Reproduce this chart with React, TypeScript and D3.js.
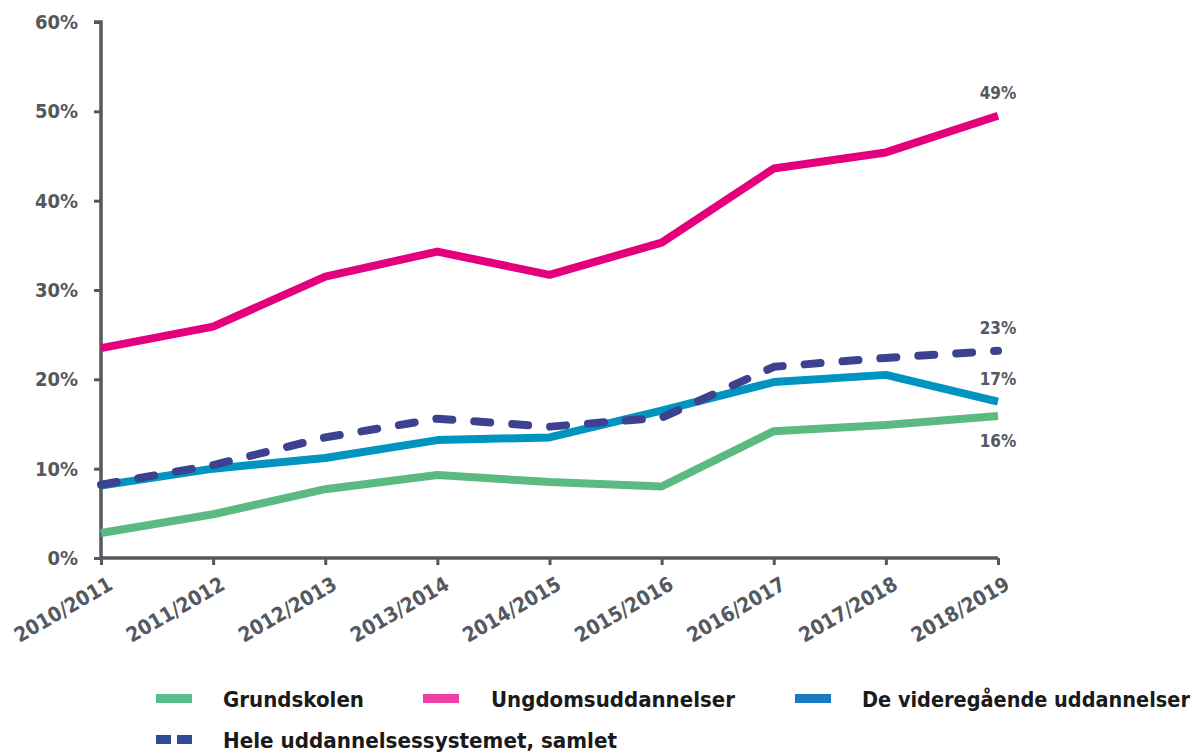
import React, { useEffect, useRef } from 'react';
import * as d3 from 'd3';

const years = [
  '2010/2011', '2011/2012', '2012/2013', '2013/2014', '2014/2015',
  '2015/2016', '2016/2017', '2017/2018', '2018/2019',
];
const grundskolen = [2.8, 4.9, 7.7, 9.3, 8.5, 8.0, 14.2, 14.9, 15.9];
const ungdom = [23.5, 25.9, 31.5, 34.3, 31.7, 35.3, 43.6, 45.4, 49.5];
const videregaaende = [8.1, 10.0, 11.2, 13.2, 13.5, 16.5, 19.7, 20.5, 17.5];
const samlet = [8.2, 10.4, 13.5, 15.6, 14.7, 15.7, 21.4, 22.4, 23.2];
const yTicks = [0, 10, 20, 30, 40, 50, 60];
const endLabels = [
  { text: '49%', value: 49.5 },
  { text: '23%', value: 23.2 },
  { text: '17%', value: 17.5 },
  { text: '16%', value: 15.9 },
];
const legendItems = [
  { label: 'Grundskolen', color: '#57bf8b', dashed: false },
  { label: 'Ungdomsuddannelser', color: '#ee3fa7', dashed: false },
  { label: 'De videregående uddannelser', color: '#1a7ac1', dashed: false },
  { label: 'Hele uddannelsessystemet, samlet', color: '#2f4b98', dashed: true },
];

const WIDTH = 1200;
const HEIGHT = 752;
const margin = { top: 22, right: 202, bottom: 194, left: 101 };
const axisColor = '#54585f';
const font = '"DejaVu Sans Condensed", "DejaVu Sans", sans-serif';

export default function App() {
  const svgRef = useRef<SVGSVGElement>(null);

  useEffect(() => {
    if (!svgRef.current) return;
    const svg = d3.select(svgRef.current);
    svg.selectAll('*').remove();

    const x = d3.scalePoint<string>()
      .domain(years)
      .range([margin.left, WIDTH - margin.right]);
    const y = d3.scaleLinear()
      .domain([0, 60])
      .range([HEIGHT - margin.bottom, margin.top]);

    // y axis
    const yAxis = svg.append('g')
      .attr('transform', `translate(${margin.left},0)`)
      .call(d3.axisLeft(y).tickValues(yTicks).tickSize(7).tickPadding(16).tickFormat(d => `${d}%`));
    yAxis.select('.domain').attr('stroke', axisColor).attr('stroke-width', 3.5)
      .attr('d', `M-7,${y(60)}H0V${y(0)}`);
    yAxis.selectAll('.tick line').attr('stroke', axisColor).attr('stroke-width', 3);
    yAxis.selectAll('.tick text')
      .attr('fill', axisColor)
      .attr('font-family', font)
      .attr('font-weight', 'bold')
      .attr('font-size', 20);

    // x axis
    const xAxis = svg.append('g')
      .attr('transform', `translate(0,${y(0)})`)
      .call(d3.axisBottom(x).tickSize(7).tickSizeOuter(0));
    xAxis.select('.domain').attr('stroke', axisColor).attr('stroke-width', 3.5)
      .attr('d', `M${margin.left},0H${WIDTH - margin.right}`);
    xAxis.selectAll('.tick line').attr('stroke', axisColor).attr('stroke-width', 3);
    xAxis.selectAll('.tick text')
      .attr('fill', axisColor)
      .attr('font-family', font)
      .attr('font-weight', 'bold')
      .attr('font-size', 20.5)
      .attr('text-anchor', 'end')
      .attr('y', 0)
      .attr('dy', '0.75em')
      .attr('transform', 'translate(5,17) rotate(-30)');

    const line = d3.line<number>()
      .x((_, i) => x(years[i]) as number)
      .y(d => y(d));

    const series = [
      { data: grundskolen, color: '#5bb982', dash: null },
      { data: ungdom, color: '#e4007d', dash: null },
      { data: videregaaende, color: '#0094c0', dash: null },
      { data: samlet, color: '#3c4290', dash: '16 22' },
    ];
    series.forEach(s => {
      const p = svg.append('path')
        .datum(s.data)
        .attr('fill', 'none')
        .attr('stroke', s.color)
        .attr('stroke-width', 8)
        .attr('stroke-linejoin', 'round')
        .attr('d', line);
      if (s.dash) p.attr('stroke-dasharray', s.dash).attr('stroke-linecap', 'round');
    });

    // end labels
    const lastX = x(years[years.length - 1]) as number;
    svg.append('g').selectAll('text')
      .data(endLabels)
      .join('text')
      .attr('x', lastX)
      .attr('y', (d, i) => (i < 3 ? y(d.value) - 17 : y(d.value) + 31))
      .attr('text-anchor', 'middle')
      .attr('fill', axisColor)
      .attr('font-family', font)
      .attr('font-weight', 'bold')
      .attr('font-size', 17)
      .text(d => d.text);

    // legend
    const legendPos = [
      { sx: 156, tx: 223, ty: 699, w: 141 },
      { sx: 423, tx: 491, ty: 699, w: 244 },
      { sx: 795, tx: 862, ty: 699, w: 328 },
      { sx: 156, tx: 223, ty: 740, w: 394 },
    ];
    const legend = svg.append('g');
    legendItems.forEach((item, i) => {
      const pos = legendPos[i];
      if (item.dashed) {
        legend.append('rect').attr('x', pos.sx).attr('y', pos.ty - 5).attr('width', 15).attr('height', 9).attr('fill', item.color);
        legend.append('rect').attr('x', pos.sx + 21).attr('y', pos.ty - 5).attr('width', 15).attr('height', 9).attr('fill', item.color);
      } else {
        legend.append('rect').attr('x', pos.sx).attr('y', pos.ty - 5).attr('width', 36).attr('height', 9).attr('fill', item.color);
      }
      legend.append('text')
        .attr('x', pos.tx)
        .attr('y', pos.ty)
        .attr('dy', '0.36em')
        .attr('fill', '#1a1a1a')
        .attr('font-family', font)
        .attr('font-weight', 'bold')
        .attr('font-size', 22)
        .attr('textLength', pos.w)
        .attr('lengthAdjust', 'spacingAndGlyphs')
        .text(item.label);
    });
  }, []);

  return (
    <svg
      ref={svgRef}
      width={WIDTH}
      height={HEIGHT}
      style={{ position: 'absolute', left: 0, top: 0, background: '#fff' }}
    />
  );
}
